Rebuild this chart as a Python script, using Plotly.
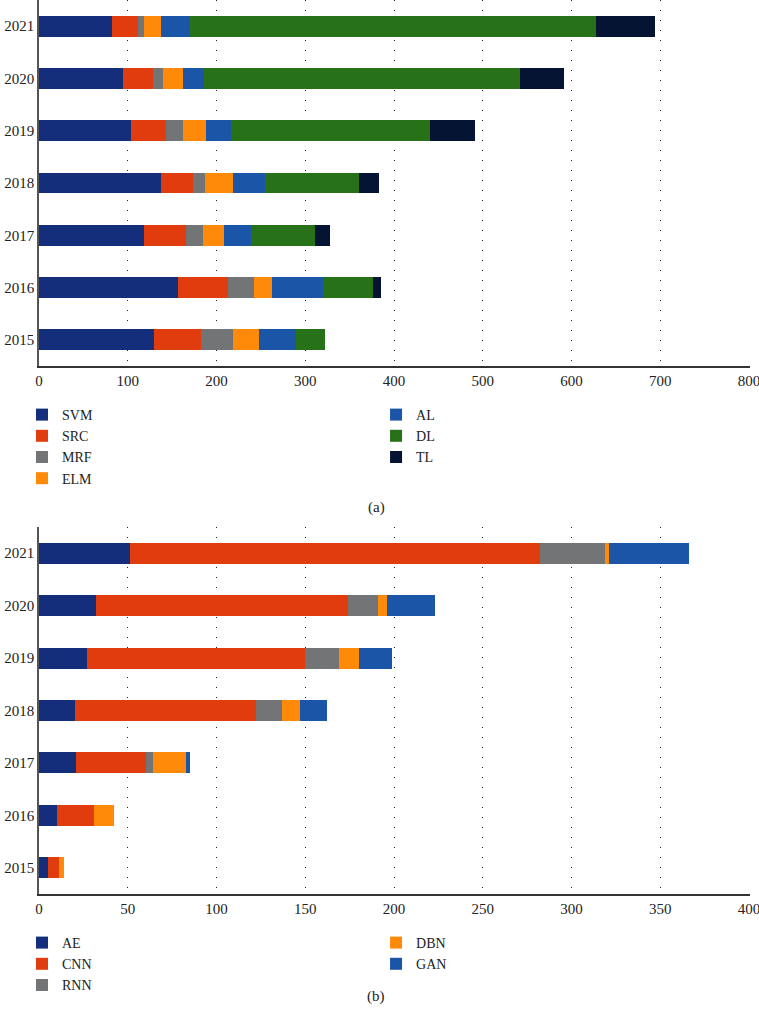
import plotly.graph_objects as go

years = ["2015", "2016", "2017", "2018", "2019", "2020", "2021"]

# Panel (a): conventional / ML methods
a_series = ["SVM", "SRC", "MRF", "ELM", "AL", "DL", "TL"]
svm = [129, 157, 118, 137, 104, 95, 82]
src = [53, 56, 48, 36, 39, 33, 30]
mrf = [37, 29, 19, 14, 19, 12, 6]
elm = [29, 21, 23, 32, 26, 22, 20]
al = [41, 57, 31, 36, 28, 24, 32]
dl = [33, 56, 72, 105, 224, 356, 457]
tl = [0, 9, 17, 23, 51, 49, 67]
a_values = [svm, src, mrf, elm, al, dl, tl]

# Panel (b): deep learning models
b_series = ["AE", "CNN", "RNN", "DBN", "GAN"]
ae = [5, 10, 21, 20, 27, 32, 51]
cnn = [6, 21, 39, 102, 123, 142, 231]
rnn = [0, 0, 4, 15, 19, 17, 37]
dbn = [3, 11, 19, 10, 11, 5, 2]
gan = [0, 0, 2, 15, 19, 27, 45]
b_values = [ae, cnn, rnn, dbn, gan]

a_colors = ["#152e7c", "#e03c0e", "#727476", "#ff8a0a", "#1b55a7", "#277119", "#061433"]
b_colors = ["#152e7c", "#e03c0e", "#727476", "#ff8a0a", "#1b55a7"]

FONT = "Liberation Serif, Times New Roman, serif"

fig = go.Figure()

for i, (name, vals, col) in enumerate(zip(a_series, a_values, a_colors)):
    fig.add_trace(go.Bar(
        y=years, x=vals, name=name, orientation="h",
        marker=dict(color=col, line=dict(width=0)),
        xaxis="x", yaxis="y",
        legend="legend" if i < 4 else "legend2",
    ))

for i, (name, vals, col) in enumerate(zip(b_series, b_values, b_colors)):
    fig.add_trace(go.Bar(
        y=years, x=vals, name=name, orientation="h",
        marker=dict(color=col, line=dict(width=0)),
        xaxis="x2", yaxis="y2",
        legend="legend3" if i < 3 else "legend4",
    ))

W, H = 759, 1023
L = 39
pw = 710.9
R = W - L - pw

def py(pix):
    return 1 - pix / H

def px(pix):
    return (pix - L) / pw

xcommon = dict(
    showgrid=True, gridcolor="#222222", gridwidth=1, griddash="1px,9px",
    showline=True, linecolor="#333333", linewidth=1.5,
    ticks="", zeroline=False, automargin=False, ticklabeloverflow="allow",
    tickfont=dict(family=FONT, size=15, color="#222222"),
)
ycommon = dict(
    type="category", categoryorder="array", categoryarray=years,
    showgrid=False, showline=True, linecolor="#555555", linewidth=1.5,
    ticks="", zeroline=False, automargin=False,
    tickfont=dict(family=FONT, size=15, color="#222222"),
)

legcommon = dict(
    orientation="v", traceorder="normal", bgcolor="rgba(0,0,0,0)",
    font=dict(family=FONT, size=14, color="#222222"),
    xanchor="left", yanchor="top", tracegroupgap=0,
)

fig.update_layout(
    width=W, height=H,
    margin=dict(l=L, r=R, t=0, b=0, autoexpand=False),
    paper_bgcolor="white", plot_bgcolor="white",
    barmode="stack", bargap=0.6,
    font=dict(family=FONT, size=15, color="#222222"),
    xaxis=dict(domain=[0, 1], anchor="y", range=[0, 801], dtick=100, tick0=0, **xcommon),
    yaxis=dict(domain=[py(366), 1], anchor="x", **ycommon),
    xaxis2=dict(domain=[0, 1], anchor="y2", range=[0, 400.5], dtick=50, tick0=0, **xcommon),
    yaxis2=dict(domain=[py(894), py(527)], anchor="x2", **ycommon),
    legend=dict(x=px(22), y=py(399), **legcommon),
    legend2=dict(x=px(376), y=py(399), **legcommon),
    legend3=dict(x=px(22), y=py(927), **legcommon),
    legend4=dict(x=px(376), y=py(927), **legcommon),
    annotations=[
        dict(text="(a)", x=px(376), y=py(507), xref="paper", yref="paper",
             showarrow=False, font=dict(family=FONT, size=15, color="#222222")),
        dict(text="(b)", x=px(376), y=py(1007), xref="paper", yref="paper",
             showarrow=False, font=dict(family=FONT, size=15, color="#222222")),
    ],
)

fig.write_html("out.html", config={"displayModeBar": False},
               post_script="document.body.style.margin='0';")
